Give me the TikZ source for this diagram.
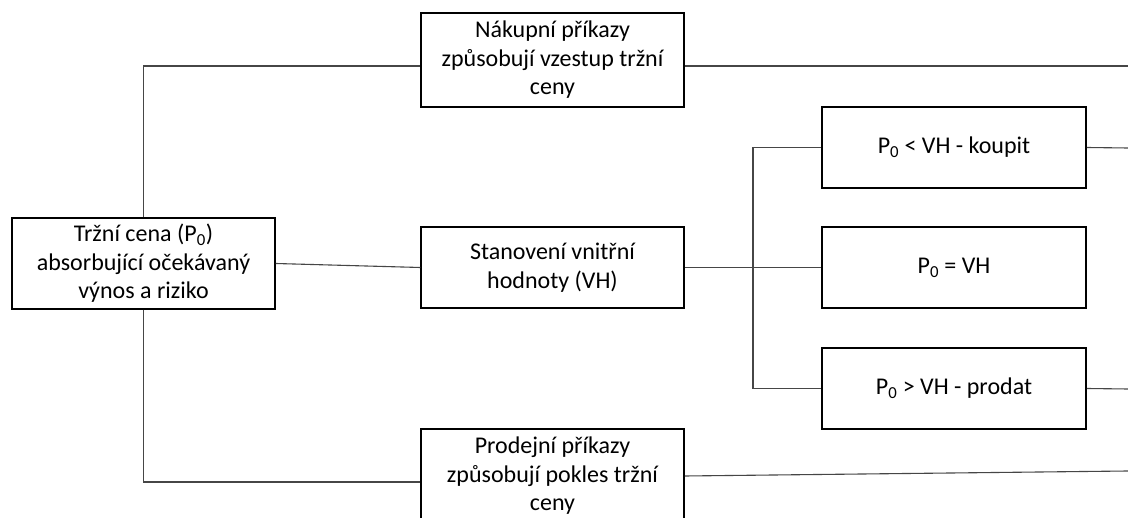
\documentclass[tikz,border=0pt]{standalone}
\usepackage{fontspec}
\setmainfont{Carlito}
\begin{document}
\begin{tikzpicture}[x=1pt,y=-1pt,
  box/.style={draw=black, line width=1.5pt, fill=white, align=center,
    inner sep=0pt, font=\fontsize{24}{28.5}\selectfont,
    minimum width=263pt},
  conn/.style={draw={rgb,255:red,70;green,70;blue,70}, line width=1.1pt}]
\fill[white] (0,0) rectangle (1128,518);
\useasboundingbox (0,0) rectangle (1128,518);

% boxes
\node[box, minimum height=91pt] (L) at (143.5,263.5)
  {Tržní cena (P\textsubscript{0})\\absorbující očekávaný\\výnos a riziko};
\node[box, minimum height=94pt] (T) at (552.5,60)
  {Nákupní příkazy\\způsobují vzestup tržní\\ceny};
\node[box, minimum height=81pt] (M) at (552.5,267.5)
  {Stanovení vnitřní\\hodnoty (VH)};
\node[box, minimum height=94pt] (S) at (552.5,476)
  {Prodejní příkazy\\způsobují pokles tržní\\ceny};
\node[box, minimum height=81pt, minimum width=264pt] (B1) at (954,147.5)
  {P\textsubscript{0} < VH - koupit};
\node[box, minimum height=81pt, minimum width=264pt] (B2) at (954,267.5)
  {P\textsubscript{0} = VH};
\node[box, minimum height=81pt, minimum width=264pt] (B3) at (954,388.5)
  {P\textsubscript{0} > VH - prodat};

% free ends at the right edge
\coordinate (eT) at (1128,66);
\coordinate (eB1) at (1128,148);
\coordinate (eB3) at (1128,389);
\coordinate (eS) at (1128,471);
\coordinate (J) at (753,0);

% connectors
\draw[conn] (L.north) |- ([yshift=-6pt]T.west);
\draw[conn] ([yshift=-6pt]T.east) -- (eT);
\draw[conn] (L.east) -- (M.west);
\draw[conn] (L.south) |- ([yshift=-6pt]S.west);
\draw[conn] (S.east) -- (eS);
\draw[conn] (M.east) -- (B2.west);
\draw[conn] (B1.west) -| (J |- B3.west) -- (B3.west);
\draw[conn] (B1.east) -- (eB1);
\draw[conn] (B3.east) -- (eB3);
\end{tikzpicture}
\end{document}
